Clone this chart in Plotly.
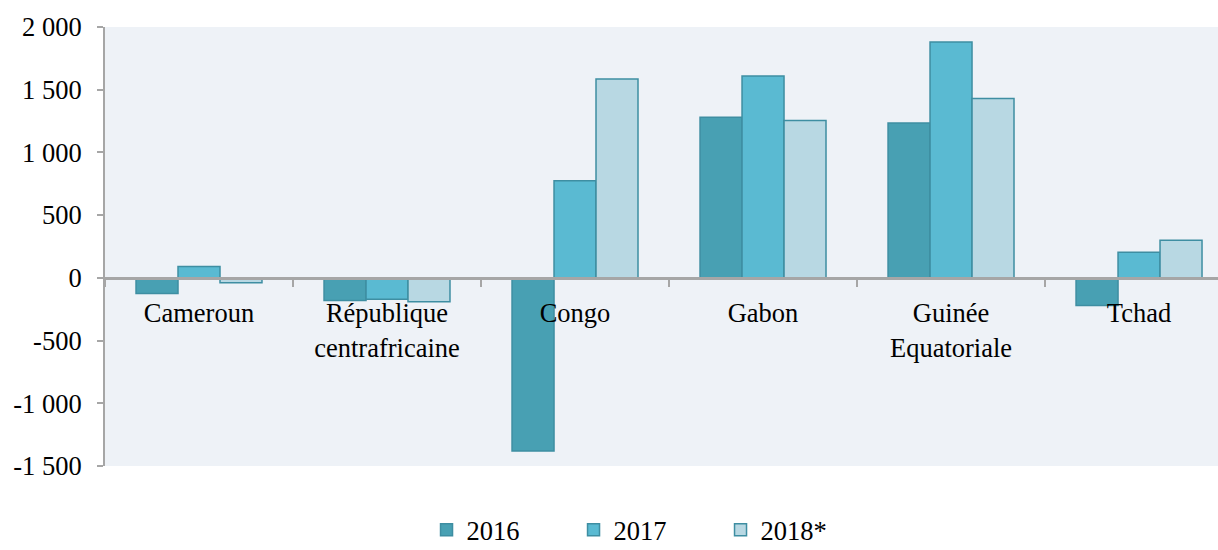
import plotly.graph_objects as go

# Categories and values (millions)
countries = ["Cameroun", "République<br>centrafricaine", "Congo", "Gabon",
             "Guinée<br>Equatoriale", "Tchad"]
v2016 = [-125, -180, -1380, 1280, 1235, -220]
v2017 = [90, -170, 775, 1610, 1880, 205]
v2018 = [-40, -190, 1585, 1255, 1430, 300]

ytick_vals = [-1500, -1000, -500, 0, 500, 1000, 1500, 2000]
ytick_text = ["-1 500", "-1 000", "-500", "0", "500", "1 000", "1 500", "2 000"]

series = [
    ("2016", v2016, "#48A0B3"),
    ("2017", v2017, "#5ABAD2"),
    ("2018*", v2018, "#B8D8E3"),
]

fig = go.Figure()
for name, vals, color in series:
    fig.add_trace(go.Bar(
        x=countries, y=vals, name=name,
        marker=dict(color=color, line=dict(color="#3E8EA2", width=1.5)),
    ))

ymin, ymax = -1500, 2000
zero_pos = (0 - ymin) / (ymax - ymin)

font_family = "Liberation Serif"
fsize = 26.5

fig.update_layout(
    width=1218, height=550,
    margin=dict(l=105, r=0, t=27, b=84, autoexpand=False),
    paper_bgcolor="white",
    plot_bgcolor="#EEF2F7",
    barmode="group",
    bargap=0.33,
    bargroupgap=0,
    font=dict(family=font_family, size=fsize, color="black"),
    showlegend=True,
    legend=dict(
        orientation="h",
        x=0.487, xanchor="center",
        y=-0.146, yanchor="middle",
        font=dict(family=font_family, size=fsize, color="black"),
        entrywidth=102, entrywidthmode="pixels",
        bgcolor="rgba(0,0,0,0)",
    ),
    xaxis=dict(
        type="category",
        range=[-0.5, 5.42],
        anchor="free",
        position=zero_pos,
        showline=True, linecolor="#A6A6A6", linewidth=2.5,
        ticks="outside", tickson="boundaries", ticklen=7,
        tickcolor="#A6A6A6", tickwidth=2,
        showgrid=False,
        tickfont=dict(family=font_family, size=fsize, color="black"),
        ticklabelstandoff=11,
        layer="above traces",
    ),
    yaxis=dict(
        range=[ymin, ymax],
        tickvals=ytick_vals, ticktext=ytick_text,
        showline=True, linecolor="#A6A6A6", linewidth=2,
        ticks="outside", ticklen=6, tickcolor="#A6A6A6", tickwidth=2,
        showgrid=False, zeroline=False,
        tickfont=dict(family=font_family, size=fsize, color="black"),
        ticklabelstandoff=10,
    ),
)

fig.write_html("out.html")
